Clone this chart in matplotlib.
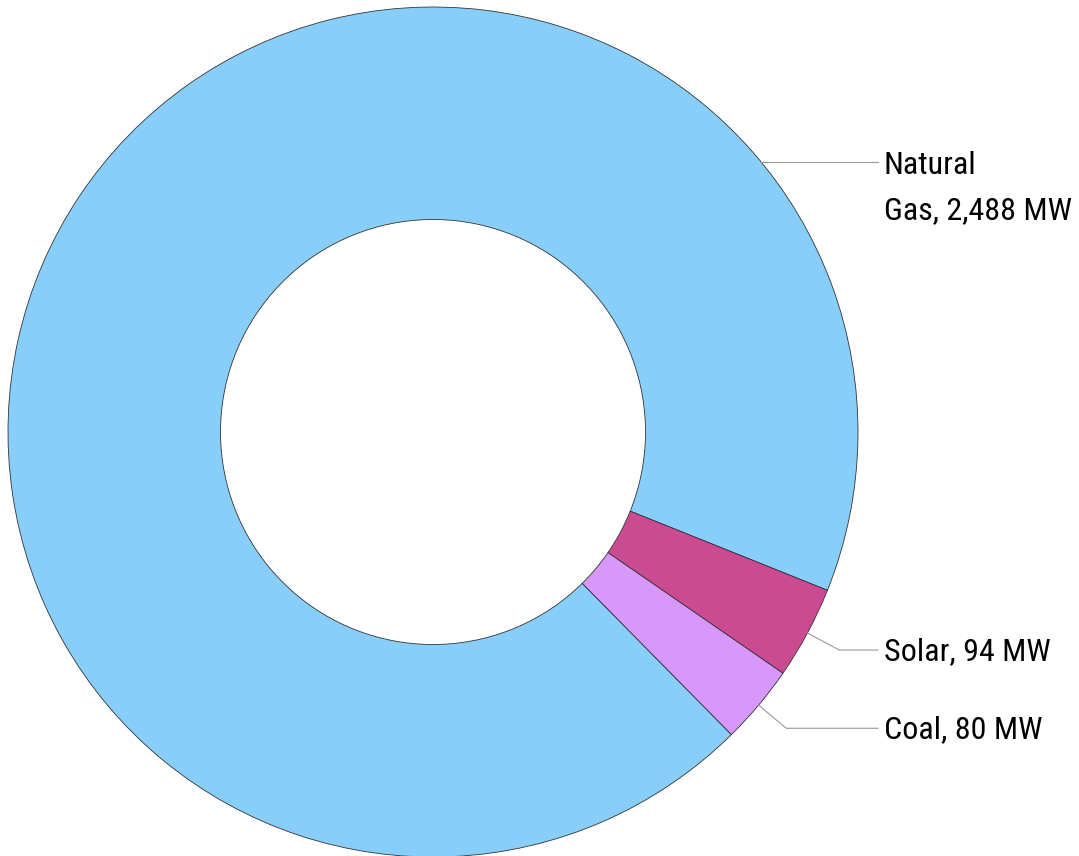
import numpy as np
import matplotlib
matplotlib.use("Agg")
import matplotlib.pyplot as plt
from matplotlib import font_manager

# installed capacity by fuel
fuels = ["Natural Gas", "Solar", "Coal"]
capacity_mw = [2488, 94, 80]
colors = ["#87CEFA", "#CC4A92", "#D897FA"]

# first condensed family that is installed
installed = {f.name for f in font_manager.fontManager.ttflist}
family = next((f for f in ["Roboto Condensed", "Archivo Narrow", "PT Sans Narrow",
                           "Liberation Sans Narrow"] if f in installed),
              "DejaVu Sans")
plt.rcParams["font.family"] = [family, "DejaVu Sans"]

W, H = 1079, 856
fig = plt.figure(figsize=(W / 100, H / 100), dpi=100)
# axes in pixel units so the ring sits where we want it
ax = fig.add_axes([0, 0, 1, 1])

cx, cy, r = 433, 424, 425
wedges, _ = ax.pie(capacity_mw, colors=colors, center=(cx, cy), radius=r,
                   startangle=-45.4, counterclock=False,
                   wedgeprops=dict(width=r * 0.5, edgecolor="#333333", linewidth=0.6))
ax.set_xlim(0, W)
ax.set_ylim(0, H)
ax.set_aspect("equal")
ax.axis("off")


def label_text(name, mw):
    txt = f"{name}, {mw:,} MW"
    if name == "Natural Gas":
        txt = txt.replace("Natural ", "Natural\n")
    return txt


line_kw = dict(color="#999999", linewidth=0.8)
text_x = 884
line_end = 878
fs = 23

for w, name, mw in zip(wedges, fuels, capacity_mw):
    if name == "Natural Gas":
        # big slice: label goes on the right, line straight out from the rim
        ang = np.deg2rad(39.4)
        ax_, ay_ = cx + r * np.cos(ang), cy + r * np.sin(ang)
        ax.plot([ax_, line_end], [ay_, ay_], **line_kw)
        # baseline of a two-line text sits on its last line
        ax.text(text_x, ay_ - 57, label_text(name, mw), fontsize=fs,
                va="baseline", ha="left", linespacing=1.72)
    else:
        ang = np.deg2rad((w.theta1 + w.theta2) / 2)
        ax_, ay_ = cx + r * np.cos(ang), cy + r * np.sin(ang)
        ex, ey = cx + (r + 36) * np.cos(ang), cy + (r + 36) * np.sin(ang)
        ax.plot([ax_, ex, line_end], [ay_, ey, ey], **line_kw)
        ax.text(text_x, ey - 10, label_text(name, mw), fontsize=fs,
                va="baseline", ha="left")

fig.savefig("out.png", dpi=100, facecolor="white")
